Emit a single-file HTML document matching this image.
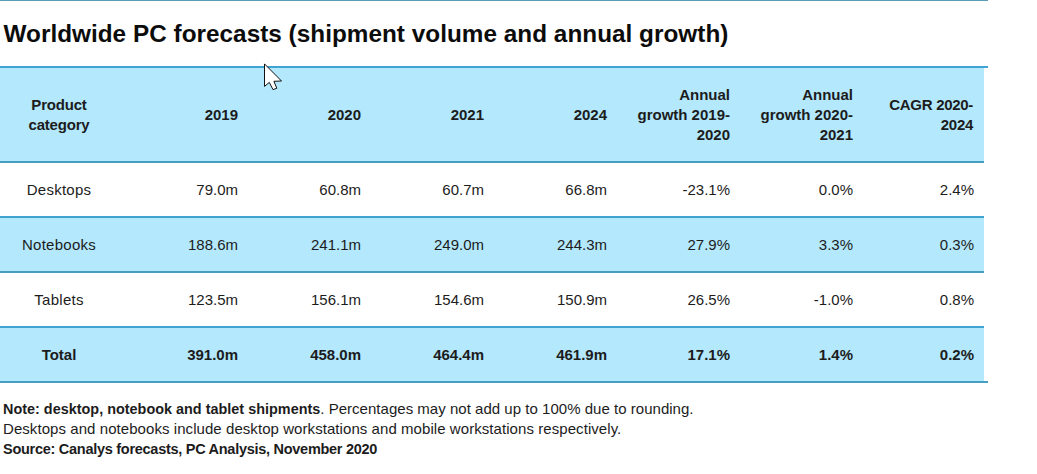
<!DOCTYPE html>
<html lang="en">
<head>
<meta charset="utf-8">
<title>Worldwide PC forecasts</title>
<style>
  html, body { margin: 0; padding: 0; background: #ffffff; }
  body { width: 1037px; height: 474px; overflow: hidden; position: relative;
         font-family: "Liberation Sans", sans-serif; color: #1c1c1c; }
  .wrap { position: absolute; left: 0; top: 0; width: 988px; height: 474px; }
  .topline { position: absolute; left: 0; top: 0; height: 1px; background: #5d9db3; width: 988px; }
  h1 { margin: 0; position: absolute; left: 3.5px; top: 18.5px; font-size: 24.3px; letter-spacing: 0.03px; line-height: 30px;
       font-weight: bold; color: #0c0c0c; white-space: nowrap; }
  table { position: absolute; left: 0; top: 66px; width: 984px; border-collapse: collapse; table-layout: fixed;
          font-size: 15px; }
  col { width: 123px; }
  col.c1 { width: 126px; }
  col.c8 { width: 120px; }
  th, td { padding: 0 11px 0 0; text-align: right; vertical-align: middle; font-weight: normal; }
  th:first-child, td:first-child { text-align: center; padding: 0 8px 0 0; }
  td:first-child { letter-spacing: 0.25px; }
  thead th:first-child { letter-spacing: -0.2px; }
  th:last-child, td:last-child { padding-right: 10px; }
  thead th:last-child { letter-spacing: -0.3px; padding-right: 11px; }
  tr { border-top: 2px solid #3fa4d2; }
  tbody tr.white { border-top-color: #469fbe; }
  thead tr { height: 95px; }
  tbody tr { height: 55px; }
  thead th { font-weight: bold; line-height: 20px; }
  tr.blue th, tr.blue td { background: #b3e8fd; }
  tr.total td { font-weight: bold; letter-spacing: 0; }
  tbody tr:last-child { border-bottom: 2px solid #469fbe; }
  .edge { position: absolute; left: 0; width: 988px; height: 2px; background: #3fa4d2; }
  .notes { position: absolute; left: 3px; top: 399px; font-size: 15px; line-height: 20px; white-space: nowrap; }
  .notes p { margin: 0; }
  .notes .n1 { letter-spacing: 0.025px; }
  .notes .n1 b { font-size: 14.4px; letter-spacing: 0.015px; }
  .notes .n2 { letter-spacing: 0.065px; }
  .notes .n3 b { font-size: 14.5px; letter-spacing: -0.275px; }
  .cursor { position: absolute; left: 258px; top: 56px; width: 32px; height: 40px; overflow: visible; }
</style>
</head>
<body>
<div class="wrap">
  <div class="topline"></div>
  <h1>Worldwide PC forecasts (shipment volume and annual growth)</h1>
  <table>
    <colgroup><col class="c1"><col><col><col><col><col><col><col class="c8"></colgroup>
    <thead>
      <tr class="blue">
        <th>Product<br>category</th><th>2019</th><th>2020</th><th>2021</th><th>2024</th>
        <th>Annual<br>growth 2019-<br>2020</th><th>Annual<br>growth 2020-<br>2021</th><th>CAGR 2020-<br>2024</th>
      </tr>
    </thead>
    <tbody>
      <tr class="white"><td>Desktops</td><td>79.0m</td><td>60.8m</td><td>60.7m</td><td>66.8m</td><td>-23.1%</td><td>0.0%</td><td>2.4%</td></tr>
      <tr class="blue"><td>Notebooks</td><td>188.6m</td><td>241.1m</td><td>249.0m</td><td>244.3m</td><td>27.9%</td><td>3.3%</td><td>0.3%</td></tr>
      <tr class="white"><td>Tablets</td><td>123.5m</td><td>156.1m</td><td>154.6m</td><td>150.9m</td><td>26.5%</td><td>-1.0%</td><td>0.8%</td></tr>
      <tr class="blue total"><td>Total</td><td>391.0m</td><td>458.0m</td><td>464.4m</td><td>461.9m</td><td>17.1%</td><td>1.4%</td><td>0.2%</td></tr>
    </tbody>
  </table>
  <div class="edge" style="top:66px"></div>
  <div class="edge" style="top:381px; background:#469fbe"></div>
  <div class="notes">
    <p class="n1"><b>Note: desktop, notebook and tablet shipments</b>. Percentages may not add up to 100% due to rounding.</p>
    <p class="n2">Desktops and notebooks include desktop workstations and mobile workstations respectively.</p>
    <p class="n3"><b>Source: Canalys forecasts, PC Analysis, November 2020</b></p>
  </div>
  <svg class="cursor" viewBox="258 56 32 40" aria-hidden="true">
    <path d="M264.5,63.9 L264.5,86.4 L269.3,82.4 L273,89.6 L276.8,88.3 L273.9,81.3 L281.5,81 Z" fill="#ffffff" stroke="#111111" stroke-width="1" stroke-linejoin="miter"/>
  </svg>
</div>
</body>
</html>
